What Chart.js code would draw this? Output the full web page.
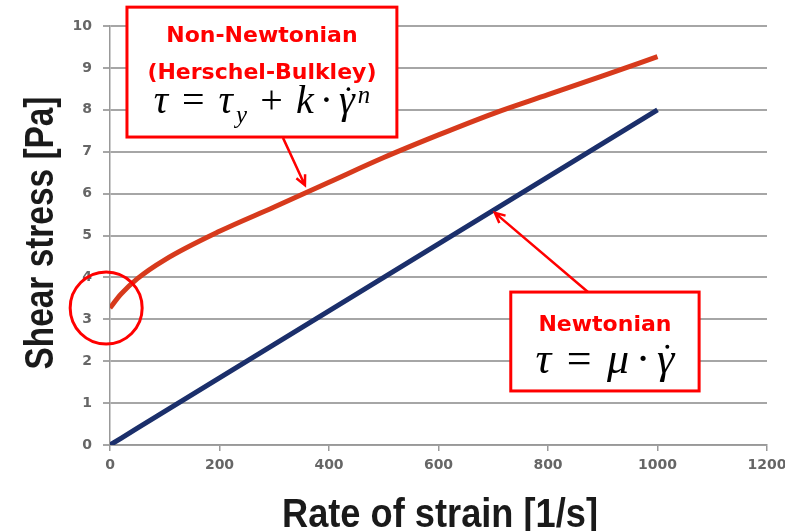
<!DOCTYPE html>
<html>
<head>
<meta charset="utf-8">
<script src="https://cdn.jsdelivr.net/npm/chart.js@4"></script>
<style>
html, body { margin: 0; padding: 0; background: #fff; }
#wrap { width: 785px; height: 531px; }
</style>
</head>
<body>
<div id="wrap"><canvas id="shear_chart"></canvas></div>
<script>
// values
const strainRate = [0, 20, 50, 100, 200, 300, 400, 500, 600, 700, 800, 900, 1000];
const nonNewtonianStress = [3.27, 3.6, 3.97, 4.42, 5.1, 5.68, 6.27, 6.86, 7.4, 7.91, 8.36, 8.81, 9.27];
const newtonianStress = [0, 0.16, 0.4, 0.8, 1.6, 2.4, 3.2, 4.0, 4.8, 5.6, 6.4, 7.2, 8.0];
const xTicks = [0, 200, 400, 600, 800, 1000, 1200];
const yTicks = [0, 1, 2, 3, 4, 5, 6, 7, 8, 9, 10];

const xTitle = "Rate of strain [1/s]";
const yTitle = "Shear stress [Pa]";

const toPoints = (xs, ys) => xs.map((v, i) => ({ x: v, y: ys[i] }));

const serif = '"Liberation Serif", "DejaVu Serif", serif';
const sans = '"DejaVu Sans", sans-serif';

// draw a small math formula made of pieces
function drawFormula(ctx, parts, cx, base, size) {
    let total = 0;
    parts.forEach(p => {
        const s = size * (p.scale || 1);
        ctx.font = (p.it ? "italic " : "") + s + "px " + serif;
        p.w = ctx.measureText(p.t).width + (p.gap || 0) * size * 2 + (p.dx || 0);
        total += p.w;
    });
    let x = cx - total / 2;
    ctx.fillStyle = "#000";
    ctx.textAlign = "left";
    ctx.textBaseline = "alphabetic";
    parts.forEach(p => {
        const s = size * (p.scale || 1);
        ctx.font = (p.it ? "italic " : "") + s + "px " + serif;
        const tx = x + (p.gap || 0) * size + (p.dx || 0);
        ctx.fillText(p.t, tx, base + (p.dy || 0) * size);
        if (p.dot) {
            const tw = ctx.measureText(p.t).width;
            ctx.beginPath();
            ctx.arc(tx + tw * 0.6, base - size * 0.6, size * 0.045, 0, Math.PI * 2);
            ctx.fill();
        }
        x += p.w;
    });
}

function arrow(ctx, x0, y0, x1, y1) {
    const a = Math.atan2(y1 - y0, x1 - x0);
    const h = 11;
    ctx.beginPath();
    ctx.moveTo(x0, y0);
    ctx.lineTo(x1, y1);
    ctx.moveTo(x1 - h * Math.cos(a - 0.45), y1 - h * Math.sin(a - 0.45));
    ctx.lineTo(x1, y1);
    ctx.lineTo(x1 - h * Math.cos(a + 0.45), y1 - h * Math.sin(a + 0.45));
    ctx.stroke();
}

const annotations = {
    id: "annotations",
    afterDraw(chart) {
        const { ctx, scales: { x, y } } = chart;
        const px = v => x.getPixelForValue(v);
        const py = v => y.getPixelForValue(v);
        ctx.save();
        ctx.strokeStyle = "#ff0000";

        // yield stress circle
        ctx.lineWidth = 3;
        ctx.beginPath();
        ctx.arc(px(-7), py(3.27), 36, 0, Math.PI * 2);
        ctx.stroke();

        // arrows
        ctx.lineWidth = 2.5;
        arrow(ctx, px(316), py(7.33), px(356), py(6.2));
        arrow(ctx, px(873), py(3.65), px(703), py(5.54));

        // boxes
        const b1 = { l: px(31), r: px(524), t: py(10.45), b: py(7.35) };
        const b2 = { l: px(732), r: px(1076), t: py(3.65), b: py(1.29) };
        ctx.fillStyle = "#fff";
        ctx.lineWidth = 3;
        [b1, b2].forEach(b => {
            ctx.fillRect(b.l, b.t, b.r - b.l, b.b - b.t);
            ctx.strokeRect(b.l, b.t, b.r - b.l, b.b - b.t);
        });

        ctx.fillStyle = "#ff0000";
        ctx.textAlign = "center";
        ctx.textBaseline = "alphabetic";
        ctx.font = "bold 22px " + sans;
        const c1 = (b1.l + b1.r) / 2;
        ctx.fillText("Non-Newtonian", c1, b1.t + 35);
        ctx.fillText("(Herschel-Bulkley)", c1, b1.t + 72);
        drawFormula(ctx, [
            { t: "τ", it: true },
            { t: "=", gap: 0.35 },
            { t: "τ", it: true },
            { t: "y", it: true, scale: 0.62, dy: 0.25, dx: 3 },
            { t: "+", gap: 0.33 },
            { t: "k", it: true },
            { t: "·", gap: 0.15 },
            { t: "γ", it: true, dot: true },
            { t: "n", it: true, scale: 0.62, dy: -0.25, dx: 3 }
        ], c1, b1.t + 106, 40);

        const c2 = (b2.l + b2.r) / 2;
        ctx.fillStyle = "#ff0000";
        ctx.textAlign = "center";
        ctx.font = "bold 22px " + sans;
        ctx.fillText("Newtonian", c2, b2.t + 39);
        drawFormula(ctx, [
            { t: "τ", it: true },
            { t: "=", gap: 0.35 },
            { t: "μ", it: true },
            { t: "·", gap: 0.15 },
            { t: "γ", it: true, dot: true }
        ], c2, b2.t + 81, 44);

        // axis titles
        ctx.fillStyle = "#1a1a1a";
        ctx.font = "bold 40px " + '"Liberation Sans", sans-serif';
        ctx.textAlign = "center";
        ctx.textBaseline = "alphabetic";
        let w = ctx.measureText(xTitle).width;
        ctx.save();
        ctx.translate(440, 527);
        ctx.scale(316 / w, 1);
        ctx.fillText(xTitle, 0, 0);
        ctx.restore();

        w = ctx.measureText(yTitle).width;
        ctx.save();
        ctx.translate(53, 233);
        ctx.rotate(-Math.PI / 2);
        ctx.scale(273 / w, 1);
        ctx.fillText(yTitle, 0, 0);
        ctx.restore();

        ctx.restore();
    }
};

const tickFont = { family: "DejaVu Sans", size: 14, weight: "bold" };

new Chart(document.getElementById("shear_chart"), {
    type: "scatter",
    data: {
        datasets: [{
            label: "Non-Newtonian",
            data: toPoints(strainRate, nonNewtonianStress),
            showLine: true,
            borderColor: "#d73a1c",
            borderWidth: 5,
            pointRadius: 0,
            cubicInterpolationMode: "monotone"
        }, {
            label: "Newtonian",
            data: toPoints(strainRate, newtonianStress),
            showLine: true,
            borderColor: "#1b2f6b",
            borderWidth: 5,
            pointRadius: 0
        }]
    },
    options: {
        responsive: true,
        maintainAspectRatio: false,
        animation: false,
        layout: { padding: { top: 26, right: 18, left: 0, bottom: 0 } },
        plugins: {
            legend: { display: false },
            tooltip: { enabled: false }
        },
        scales: {
            x: {
                type: "linear",
                min: 0,
                max: 1200,
                afterBuildTicks: s => { s.ticks = xTicks.map(v => ({ value: v })); },
                ticks: { color: "#666", font: tickFont, padding: 6, callback: v => String(v) },
                grid: { drawOnChartArea: false, drawTicks: true, tickLength: 6, color: "#999", lineWidth: 1.5 },
                border: { color: "#999", width: 1.5 },
                afterFit: s => { s.height = 86; s.paddingLeft = 0; s.paddingRight = 0; }
            },
            y: {
                min: 0,
                max: 10,
                afterBuildTicks: s => { s.ticks = yTicks.map(v => ({ value: v })); },
                ticks: { color: "#666", font: tickFont, padding: 11, callback: v => String(v) },
                grid: { color: "#a6a6a6", lineWidth: 2, tickLength: 7 },
                border: { color: "#999", width: 1.5 },
                afterFit: s => { s.width = 110; s.paddingTop = 0; s.paddingBottom = 0; }
            }
        }
    },
    plugins: [annotations]
});
</script>
</body>
</html>
